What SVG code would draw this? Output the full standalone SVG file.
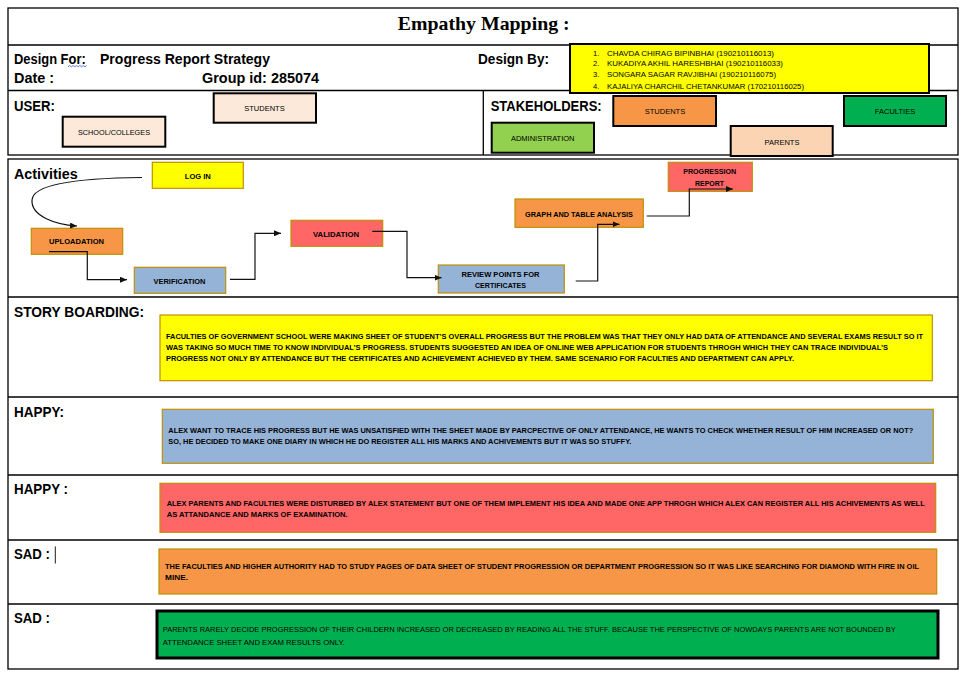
<svg xmlns="http://www.w3.org/2000/svg" width="967" height="678" viewBox="0 0 967 678">
<style>
.frame{fill:none;stroke:#000;stroke-width:1.3}
.ln{stroke:#000;stroke-width:1.3}
.hd{font-family:"Liberation Sans",Arial,sans-serif;font-weight:bold;font-size:14px;fill:#000}
.ttl{font-family:"Liberation Serif","Times New Roman",serif;font-weight:bold;font-size:19px;fill:#000}
.sm{font-family:"Liberation Sans",Arial,sans-serif;font-size:7.5px;fill:#000}
.smc{font-family:"Liberation Sans",Arial,sans-serif;font-size:7.5px;fill:#000;text-anchor:middle}
.bx{stroke:#000;stroke-width:2}
.act{stroke:#BF9000;stroke-width:1.2}
.at{font-family:"Liberation Sans",Arial,sans-serif;font-weight:bold;font-size:7.4px;fill:#000;text-anchor:middle}
.st{font-family:"Liberation Sans",Arial,sans-serif;font-weight:bold;font-size:7.7px;fill:#000}
.sr{font-family:"Liberation Sans",Arial,sans-serif;font-size:7.6px;fill:#000}
.conn{fill:none;stroke:#111;stroke-width:1.2}
.yel{fill:#FFFF00}.org{fill:#F79646}.blu{fill:#95B3D7}.red{fill:#FF6666}.grn{fill:#00B050}.lgr{fill:#92D050}.pch{fill:#FBD4B4}.lpc{fill:#FDE9D9}
</style>
<defs>
<marker id="arr" markerUnits="userSpaceOnUse" markerWidth="8" markerHeight="6" refX="7" refY="3" orient="auto">
<path d="M0,0 L7,3 L0,6 z" fill="#111"/>
</marker>
</defs>
<rect width="967" height="678" fill="#fff"/>

<g id="frames">
<rect class="frame" x="8" y="8" width="950" height="147"/>
<line class="ln" x1="8" y1="45" x2="958" y2="45"/>
<line class="ln" x1="8" y1="90.5" x2="958" y2="90.5"/>
<line class="ln" x1="483.3" y1="90.5" x2="483.3" y2="155"/>
<rect class="frame" x="8" y="159" width="950" height="510"/>
<line class="ln" x1="8" y1="297" x2="958" y2="297"/>
<line class="ln" x1="8" y1="397" x2="958" y2="397"/>
<line class="ln" x1="8" y1="475" x2="958" y2="475"/>
<line class="ln" x1="8" y1="540" x2="958" y2="540"/>
<line class="ln" x1="8" y1="604" x2="958" y2="604"/>
</g>

<g id="header">
<text class="ttl" x="397.7" y="30" textLength="172" lengthAdjust="spacingAndGlyphs">Empathy Mapping :</text>
<text class="hd" x="14" y="64.3" textLength="71.7" lengthAdjust="spacingAndGlyphs">Design For:</text>
<path d="M68,66.8 l1.7,-1.3 l1.7,1.3 l1.7,-1.3 l1.7,1.3 l1.7,-1.3 l1.7,1.3 l1.7,-1.3 l1.7,1.3 l1.7,-1.3 l1.7,1.3 l1.7,-1.3" fill="none" stroke="#3355DD" stroke-width="0.8"/>
<text class="hd" x="100" y="64.3" textLength="170" lengthAdjust="spacingAndGlyphs">Progress Report Strategy</text>
<text class="hd" x="14" y="83.3" textLength="40" lengthAdjust="spacingAndGlyphs">Date :</text>
<text class="hd" x="202" y="83.3" textLength="117" lengthAdjust="spacingAndGlyphs">Group id: 285074</text>
<text class="hd" x="478" y="63.5" textLength="71" lengthAdjust="spacingAndGlyphs">Design By:</text>
<text class="hd" x="14" y="111" textLength="41" lengthAdjust="spacingAndGlyphs">USER:</text>
<text class="hd" x="490.7" y="110.7" textLength="111" lengthAdjust="spacingAndGlyphs">STAKEHOLDERS:</text>
</g>

<g id="design-by">
<rect class="yel bx" x="570" y="44" width="359" height="49"/>
<text class="sm" x="593" y="55.5">1.</text>
<text class="sm" x="607" y="55.5" textLength="167" lengthAdjust="spacingAndGlyphs">CHAVDA CHIRAG BIPINBHAI (190210116013)</text>
<text class="sm" x="593" y="66">2.</text>
<text class="sm" x="607" y="66" textLength="176" lengthAdjust="spacingAndGlyphs">KUKADIYA AKHIL HARESHBHAI (190210116033)</text>
<text class="sm" x="593" y="77.3">3.</text>
<text class="sm" x="607" y="77.3" textLength="169" lengthAdjust="spacingAndGlyphs">SONGARA SAGAR RAVJIBHAI (190210116075)</text>
<text class="sm" x="593" y="89.3">4.</text>
<text class="sm" x="607" y="89.3" textLength="197" lengthAdjust="spacingAndGlyphs">KAJALIYA CHARCHIL CHETANKUMAR (170210116025)</text>
</g>

<g id="user-students">
<rect class="lpc bx" x="213.7" y="93.3" width="102.3" height="29.4"/>
<text class="smc" x="264.5" y="111">STUDENTS</text>
</g>
<g id="user-school">
<rect class="lpc bx" x="62.7" y="116.7" width="102.6" height="30"/>
<text class="smc" x="114" y="135" textLength="72" lengthAdjust="spacingAndGlyphs">SCHOOL/COLLEGES</text>
</g>

<g id="sh-students">
<rect class="org bx" x="613.3" y="96" width="102.7" height="30"/>
<text class="smc" x="665" y="114">STUDENTS</text>
</g>
<g id="sh-faculties">
<rect class="grn bx" x="844" y="96" width="102" height="30"/>
<text class="smc" x="895" y="114">FACULTIES</text>
</g>
<g id="sh-administration">
<rect class="lgr bx" x="491.7" y="122.7" width="102.3" height="30"/>
<text class="smc" x="542.7" y="141">ADMINISTRATION</text>
</g>
<g id="sh-parents">
<rect class="pch bx" x="730.7" y="126" width="102" height="30"/>
<text class="smc" x="782" y="144.5">PARENTS</text>
</g>

<g id="labels">
<text class="hd" x="14" y="178.8" textLength="63.7" lengthAdjust="spacingAndGlyphs">Activities</text>
<text class="hd" x="14" y="316.7" textLength="130" lengthAdjust="spacingAndGlyphs">STORY BOARDING:</text>
<text class="hd" x="14" y="416.7" textLength="50" lengthAdjust="spacingAndGlyphs">HAPPY:</text>
<text class="hd" x="14" y="494.3" textLength="54" lengthAdjust="spacingAndGlyphs">HAPPY :</text>
<text class="hd" x="14" y="559" textLength="36" lengthAdjust="spacingAndGlyphs">SAD :</text>
<line x1="55.3" y1="546.5" x2="55.3" y2="563.5" stroke="#000" stroke-width="0.9"/>
<text class="hd" x="14" y="623.3" textLength="36" lengthAdjust="spacingAndGlyphs">SAD :</text>
</g>

<g id="act-login">
<rect class="yel act" x="152.3" y="162.3" width="91" height="26"/>
<text class="at" x="197.8" y="178.5" textLength="26" lengthAdjust="spacingAndGlyphs">LOG IN</text>
</g>
<g id="act-uploadation">
<rect class="org act" x="31.3" y="228.3" width="91.4" height="26"/>
<text class="at" x="76.5" y="243.6" textLength="55" lengthAdjust="spacingAndGlyphs">UPLOADATION</text>
</g>
<g id="act-verification">
<rect class="blu act" x="134.3" y="267.3" width="91.4" height="26"/>
<text class="at" x="179.5" y="283.5" textLength="52" lengthAdjust="spacingAndGlyphs">VERIFICATION</text>
</g>
<g id="act-validation">
<rect class="red act" x="291" y="220.3" width="91.7" height="26"/>
<text class="at" x="336" y="236.8" textLength="46" lengthAdjust="spacingAndGlyphs">VALIDATION</text>
</g>
<g id="act-review">
<rect class="blu act" x="438.3" y="265" width="126" height="28"/>
<text class="at" x="500.5" y="276.5" textLength="78" lengthAdjust="spacingAndGlyphs">REVIEW POINTS FOR</text>
<text class="at" x="500.5" y="287.5" textLength="51" lengthAdjust="spacingAndGlyphs">CERTIFICATES</text>
</g>
<g id="act-graph">
<rect class="org act" x="515" y="199" width="128.3" height="28.3"/>
<text class="at" x="579" y="216.5" textLength="108" lengthAdjust="spacingAndGlyphs">GRAPH AND TABLE ANALYSIS</text>
</g>
<g id="act-progression">
<rect class="red act" x="668.3" y="162.3" width="84" height="29"/>
<text class="at" x="709.7" y="174.2" textLength="53" lengthAdjust="spacingAndGlyphs">PROGRESSION</text>
<text class="at" x="709.5" y="185.5" textLength="29" lengthAdjust="spacingAndGlyphs">REPORT</text>
</g>

<g id="connectors">
<path class="conn" marker-end="url(#arr)" d="M142,177.5 C92,178 33,182 32,200 C31,216 55,224.5 77,226"/>
<path class="conn" marker-end="url(#arr)" d="M49,251.7 H87.3 V279.7 H127"/>
<path class="conn" marker-end="url(#arr)" d="M230,279.3 H255 V233.3 H281"/>
<path class="conn" marker-end="url(#arr)" d="M372.3,231.3 H407 V277.7 H441.5"/>
<path class="conn" marker-end="url(#arr)" d="M575.7,281 H597.7 V224.3 H619.5"/>
<path class="conn" marker-end="url(#arr)" d="M646.7,216 H689.3 V189 H733"/>
</g>

<g id="story-boarding">
<rect class="yel act" x="160" y="315" width="772.3" height="65.7"/>
<text class="st" x="166" y="338.5" textLength="757" lengthAdjust="spacingAndGlyphs">FACULTIES OF GOVERNMENT SCHOOL WERE MAKING SHEET OF STUDENT’S OVERALL PROGRESS BUT THE PROBLEM WAS THAT THEY ONLY HAD DATA OF ATTENDANCE AND SEVERAL EXAMS RESULT SO IT</text>
<text class="st" x="166" y="349.5" textLength="722" lengthAdjust="spacingAndGlyphs">WAS TAKING SO MUCH TIME TO KNOW INDIVIDUAL’S PROGRESS. STUDENTS SUGGESTED AN IDEA OF ONLINE WEB APPLICATION FOR STUDENTS THROGH WHICH THEY CAN TRACE INDIVIDUAL’S</text>
<text class="st" x="166" y="360.5" textLength="628" lengthAdjust="spacingAndGlyphs">PROGRESS NOT ONLY BY ATTENDANCE BUT THE CERTIFICATES AND ACHIEVEMENT ACHIEVED BY THEM. SAME SCENARIO FOR FACULTIES AND DEPARTMENT CAN APPLY.</text>
</g>

<g id="happy-1">
<rect class="blu act" x="162.3" y="409.3" width="771" height="54"/>
<text class="st" x="168.3" y="433" textLength="745" lengthAdjust="spacingAndGlyphs">ALEX WANT TO TRACE HIS PROGRESS BUT HE WAS UNSATISFIED WITH THE SHEET MADE BY PARCPECTIVE OF ONLY ATTENDANCE, HE WANTS TO CHECK WHETHER RESULT OF HIM INCREASED OR NOT?</text>
<text class="st" x="168.3" y="443.7" textLength="463" lengthAdjust="spacingAndGlyphs">SO, HE DECIDED TO MAKE ONE DIARY IN WHICH HE DO REGISTER ALL HIS MARKS AND ACHIVEMENTS BUT IT WAS SO STUFFY.</text>
</g>

<g id="happy-2">
<rect class="red act" x="160" y="483.3" width="775.7" height="49"/>
<text class="st" x="166.7" y="506.3" textLength="758" lengthAdjust="spacingAndGlyphs">ALEX PARENTS AND FACULTIES WERE DISTURBED BY ALEX STATEMENT BUT ONE OF THEM IMPLEMENT HIS IDEA AND MADE ONE APP THROGH WHICH ALEX CAN REGISTER ALL HIS ACHIVEMENTS AS WELL</text>
<text class="st" x="166.7" y="516.5" textLength="181" lengthAdjust="spacingAndGlyphs">AS ATTANDANCE AND MARKS OF EXAMINATION.</text>
</g>

<g id="sad-1">
<rect class="org act" x="159" y="549" width="777.7" height="45"/>
<text class="st" x="165" y="568.7" textLength="754" lengthAdjust="spacingAndGlyphs">THE FACULTIES AND HIGHER AUTHORITY HAD TO STUDY PAGES OF DATA SHEET OF STUDENT PROGRESSION OR DEPARTMENT PROGRESSION SO IT WAS LIKE SEARCHING FOR DIAMOND WITH FIRE IN OIL</text>
<text class="st" x="165" y="580.3" textLength="23" lengthAdjust="spacingAndGlyphs">MINE.</text>
</g>

<g id="sad-2">
<rect class="grn" x="157" y="611" width="781" height="47" stroke="#000" stroke-width="3"/>
<text class="sr" x="162.7" y="632.3" textLength="733" lengthAdjust="spacingAndGlyphs">PARENTS RARELY DECIDE PROGRESSION OF THEIR CHILDERN INCREASED OR DECREASED BY READING ALL THE STUFF. BECAUSE THE PERSPECTIVE OF NOWDAYS PARENTS ARE NOT BOUNDED BY</text>
<text class="sr" x="162.7" y="644.7" textLength="182" lengthAdjust="spacingAndGlyphs">ATTENDANCE SHEET AND EXAM RESULTS ONLY.</text>
</g>
</svg>
